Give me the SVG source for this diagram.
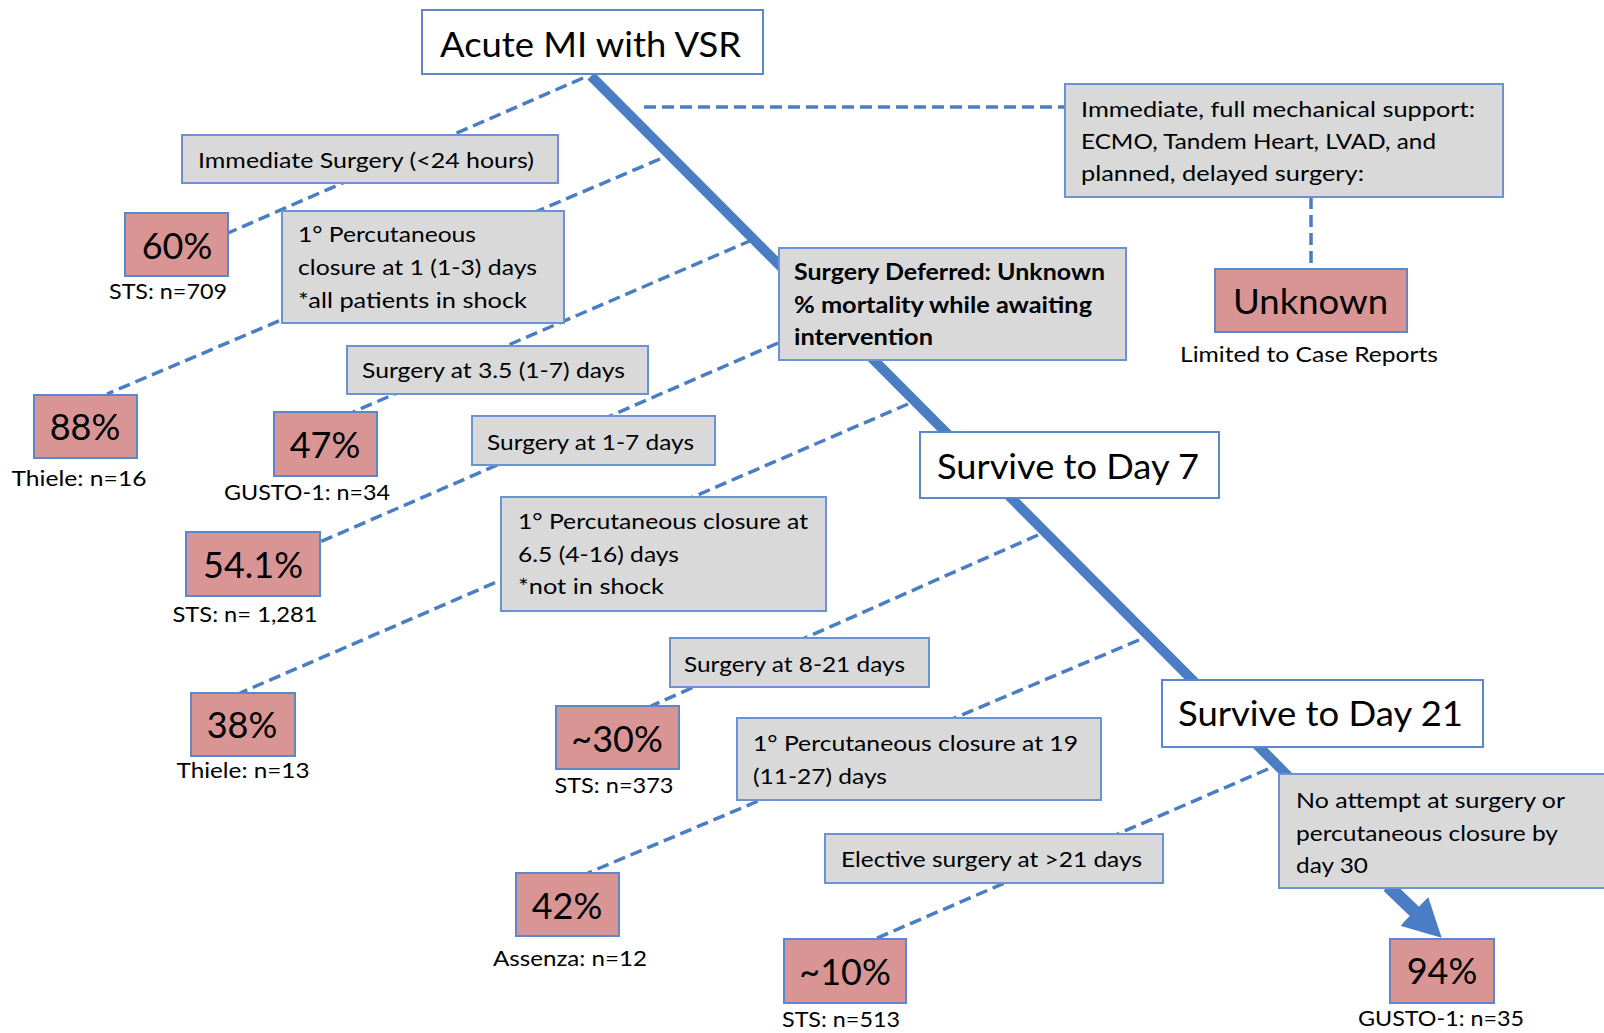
<svg xmlns="http://www.w3.org/2000/svg" width="1604" height="1033" viewBox="0 0 1604 1033">
<defs>
<style>
text{font-family:Lato,"Open Sans","Liberation Sans",sans-serif;fill:#000}
.w{fill:#fff;stroke:#5b87cc;stroke-width:2}
.g{fill:#d9d9d9;stroke:#6a93d3;stroke-width:2}
.r{fill:#d99593;stroke:#5b87cc;stroke-width:2}
.big{font-size:35px}
.pct{font-size:36px;text-anchor:middle}
.t{font-size:22px}
.b{font-size:22px;font-weight:bold}
.lab{font-size:22px;text-anchor:middle}
.d{stroke:#4a7dc4;stroke-width:3.5;stroke-dasharray:12 6;fill:none}
.m{stroke:#4a7dc4;stroke-width:10;fill:none}
.a{stroke:#4a7dc4;stroke-width:13;fill:none}
</style>
<marker id="ah" viewBox="0 0 38 40" refX="1" refY="20" markerWidth="38" markerHeight="40" orient="auto" markerUnits="userSpaceOnUse">
<path d="M0,0 L38,20 L0,40 z" fill="#4a7dc4"/>
</marker>
</defs>
<rect width="1604" height="1033" fill="#fff"/>
<g id="connectors">
<line class="m" x1="591" y1="76" x2="1289" y2="777"/>
<line class="a" x1="1388" y1="886" x2="1415" y2="912" marker-end="url(#ah)"/>
<line class="d" x1="583" y1="78" x2="228" y2="233"/>
<line class="d" x1="660" y1="159" x2="107" y2="394"/>
<line class="d" x1="752" y1="240" x2="353" y2="412"/>
<line class="d" x1="778" y1="343" x2="320" y2="542"/>
<line class="d" x1="908" y1="404" x2="240" y2="693"/>
<line class="d" x1="1038" y1="535" x2="651" y2="706"/>
<line class="d" x1="1139" y1="640" x2="588" y2="873"/>
<line class="d" x1="1268" y1="769" x2="875" y2="939"/>
<line class="d" x1="644" y1="107" x2="1065" y2="107"/>
<line class="d" x1="1311" y1="197" x2="1311" y2="269"/>
</g>
<g id="n-acute"><rect class="w" x="422" y="10" width="341" height="64"/><text class="big" x="440" y="57" textLength="301" lengthAdjust="spacingAndGlyphs">Acute MI with VSR</text></g>
<g id="n-day7"><rect class="w" x="920" y="432" width="299" height="66"/><text class="big" x="937" y="479" textLength="262" lengthAdjust="spacingAndGlyphs">Survive to Day 7</text></g>
<g id="n-day21"><rect class="w" x="1162" y="680" width="321" height="67"/><text class="big" x="1178" y="726" textLength="285" lengthAdjust="spacingAndGlyphs">Survive to Day 21</text></g>
<g id="n-immsurg"><rect class="g" x="182" y="135" width="376" height="48"/><text class="t" x="198" y="168" textLength="336" lengthAdjust="spacingAndGlyphs">Immediate Surgery (&lt;24 hours)</text></g>
<g id="n-perc1"><rect class="g" x="282" y="211" width="282" height="112"/><text class="t" x="298" y="242" textLength="178" lengthAdjust="spacingAndGlyphs">1° Percutaneous</text><text class="t" x="298" y="275" textLength="239" lengthAdjust="spacingAndGlyphs">closure at 1 (1-3) days</text><text class="t" x="298" y="308" textLength="229" lengthAdjust="spacingAndGlyphs">*all patients in shock</text></g>
<g id="n-surg35"><rect class="g" x="347" y="346" width="301" height="48"/><text class="t" x="362" y="378" textLength="263" lengthAdjust="spacingAndGlyphs">Surgery at 3.5 (1-7) days</text></g>
<g id="n-surg17"><rect class="g" x="472" y="416" width="243" height="49"/><text class="t" x="487" y="450" textLength="207" lengthAdjust="spacingAndGlyphs">Surgery at 1-7 days</text></g>
<g id="n-perc65"><rect class="g" x="501" y="497" width="325" height="114"/><text class="t" x="518" y="529" textLength="290" lengthAdjust="spacingAndGlyphs">1° Percutaneous closure at</text><text class="t" x="518" y="562" textLength="161" lengthAdjust="spacingAndGlyphs">6.5 (4-16) days</text><text class="t" x="518" y="594" textLength="146" lengthAdjust="spacingAndGlyphs">*not in shock</text></g>
<g id="n-surg821"><rect class="g" x="670" y="638" width="259" height="49"/><text class="t" x="684" y="672" textLength="221" lengthAdjust="spacingAndGlyphs">Surgery at 8-21 days</text></g>
<g id="n-perc19"><rect class="g" x="737" y="718" width="364" height="82"/><text class="t" x="753" y="751" textLength="325" lengthAdjust="spacingAndGlyphs">1° Percutaneous closure at 19</text><text class="t" x="753" y="784" textLength="134" lengthAdjust="spacingAndGlyphs">(11-27) days</text></g>
<g id="n-elective"><rect class="g" x="825" y="834" width="338" height="49"/><text class="t" x="841" y="867" textLength="301" lengthAdjust="spacingAndGlyphs">Elective surgery at &gt;21 days</text></g>
<g id="n-noattempt"><rect class="g" x="1279" y="774" width="330" height="114"/><text class="t" x="1296" y="808" textLength="269" lengthAdjust="spacingAndGlyphs">No attempt at surgery or</text><text class="t" x="1296" y="841" textLength="262" lengthAdjust="spacingAndGlyphs">percutaneous closure by</text><text class="t" x="1296" y="873" textLength="72" lengthAdjust="spacingAndGlyphs">day 30</text></g>
<g id="n-deferred"><rect class="g" x="779" y="248" width="347" height="112"/><text class="b" x="794" y="280" textLength="311" lengthAdjust="spacingAndGlyphs">Surgery Deferred: Unknown</text><text class="b" x="794" y="313" textLength="298" lengthAdjust="spacingAndGlyphs">% mortality while awaiting</text><text class="b" x="794" y="345" textLength="139" lengthAdjust="spacingAndGlyphs">intervention</text></g>
<g id="n-mech"><rect class="g" x="1065" y="84" width="438" height="113"/><text class="t" x="1081" y="117" textLength="394" lengthAdjust="spacingAndGlyphs">Immediate, full mechanical support:</text><text class="t" x="1081" y="149" textLength="355" lengthAdjust="spacingAndGlyphs">ECMO, Tandem Heart, LVAD, and</text><text class="t" x="1081" y="181" textLength="283" lengthAdjust="spacingAndGlyphs">planned, delayed surgery:</text></g>
<g id="r-unknown"><rect class="r" x="1215" y="269" width="192" height="63"/><text class="big" x="1233" y="314" textLength="155" lengthAdjust="spacingAndGlyphs">Unknown</text><text class="lab" x="1309" y="362" textLength="258" lengthAdjust="spacingAndGlyphs">Limited to Case Reports</text></g>
<g id="r-60"><rect class="r" x="125" y="213" width="103" height="63"/><text class="pct" x="177" y="259">60%</text><text class="lab" x="168" y="299" textLength="118" lengthAdjust="spacingAndGlyphs">STS: n=709</text></g>
<g id="r-88"><rect class="r" x="34" y="395" width="103" height="63"/><text class="pct" x="85" y="440">88%</text><text class="lab" x="79" y="486" textLength="135" lengthAdjust="spacingAndGlyphs">Thiele: n=16</text></g>
<g id="r-47"><rect class="r" x="274" y="412" width="103" height="64"/><text class="pct" x="325" y="458">47%</text><text class="lab" x="307" y="500" textLength="166" lengthAdjust="spacingAndGlyphs">GUSTO-1: n=34</text></g>
<g id="r-541"><rect class="r" x="186" y="532" width="134" height="64"/><text class="pct" x="253" y="578">54.1%</text><text class="lab" x="245" y="622" textLength="145" lengthAdjust="spacingAndGlyphs">STS: n= 1,281</text></g>
<g id="r-38"><rect class="r" x="191" y="693" width="104" height="63"/><text class="pct" x="242" y="738">38%</text><text class="lab" x="243" y="778" textLength="133" lengthAdjust="spacingAndGlyphs">Thiele: n=13</text></g>
<g id="r-30"><rect class="r" x="556" y="706" width="123" height="63"/><text class="pct" x="617" y="752">~30%</text><text class="lab" x="614" y="793" textLength="119" lengthAdjust="spacingAndGlyphs">STS: n=373</text></g>
<g id="r-42"><rect class="r" x="516" y="873" width="103" height="63"/><text class="pct" x="567" y="919">42%</text><text class="lab" x="570" y="966" textLength="154" lengthAdjust="spacingAndGlyphs">Assenza: n=12</text></g>
<g id="r-10"><rect class="r" x="784" y="939" width="122" height="64"/><text class="pct" x="845" y="985">~10%</text><text class="lab" x="841" y="1027" textLength="118" lengthAdjust="spacingAndGlyphs">STS: n=513</text></g>
<g id="r-94"><rect class="r" x="1390" y="939" width="104" height="64"/><text class="pct" x="1442" y="984">94%</text><text class="lab" x="1441" y="1026" textLength="166" lengthAdjust="spacingAndGlyphs">GUSTO-1: n=35</text></g>
</svg>
